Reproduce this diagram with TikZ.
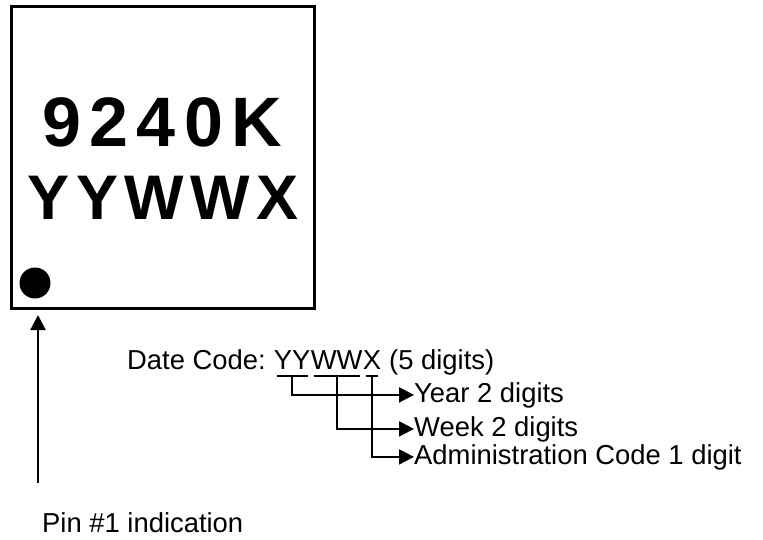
\documentclass[tikz,border=0pt]{standalone}
\usepackage{fontspec}
\setmainfont{Liberation Sans}
\newfontfamily\markfont[LetterSpace=12]{Liberation Sans}
\newfontfamily\codefont[LetterSpace=10]{Liberation Sans}
\usetikzlibrary{arrows.meta}

\begin{document}
\begin{tikzpicture}[x=1pt,y=-1pt,
    every node/.style={inner sep=0pt,font=\fontsize{27.4}{33}\selectfont},
    codepart/.style={anchor=base west,text depth=7pt},
    pointer/.style={line width=2pt,-{Triangle[length=15pt,width=15pt]}}]
    \useasboundingbox (0,0) rectangle (763,540);
    \coordinate (PinBase) at (38,483);
    \coordinate (PinTip)  at (38,315);
    % package outline and marking
    \node[draw,line width=3pt,minimum width=303pt,minimum height=301pt] (Chip) at (162.5,157.5) {};
    \node[circle,fill,minimum size=31pt] (PinDot) at (35,283) {};
    \node[anchor=base,font=\markfont\fontsize{70}{84}\selectfont\bfseries] (PartNo) at (162,147) {9240K};
    \node[anchor=base,font=\codefont\fontsize{63}{76}\selectfont\bfseries] (DateMark) at (163,220) {YYWWX};
    % pin 1 pointer
    \draw[pointer] (PinBase) -- (PinTip);
    \node[anchor=base west] (PinLabel) at (42,532) {Pin \#1 indication};
    % date code line, one node per field
    \node[codepart] (DateCode) at (127,369) {Date Code:\kern0.278em};
    \node[codepart] (YY) at (DateCode.base east) {YY};
    \node[codepart] (WW) at (YY.base east) {WW};
    \node[codepart] (X)  at (WW.base east) {X};
    \node[codepart] (Digits) at (X.base east) {\kern0.278em(5 digits)};
    \node[anchor=base west] (Year)  at (414,402) {Year 2 digits};
    \node[anchor=base west] (Week)  at (414,436) {Week 2 digits};
    \node[anchor=base west] (Admin) at (414,464) {Administration Code 1 digit};
    \foreach \field in {YY,WW,X}{% underline each field
        \draw[line width=2pt] ([xshift=3pt]\field.south west) -- ([xshift=-3pt]\field.south east);
    }
    \foreach \field/\meaning in {YY/Year,WW/Week,X/Admin}{% field to its meaning
        \draw[pointer] (\field.south) |- (\meaning.west);
    }
\end{tikzpicture}
\end{document}
